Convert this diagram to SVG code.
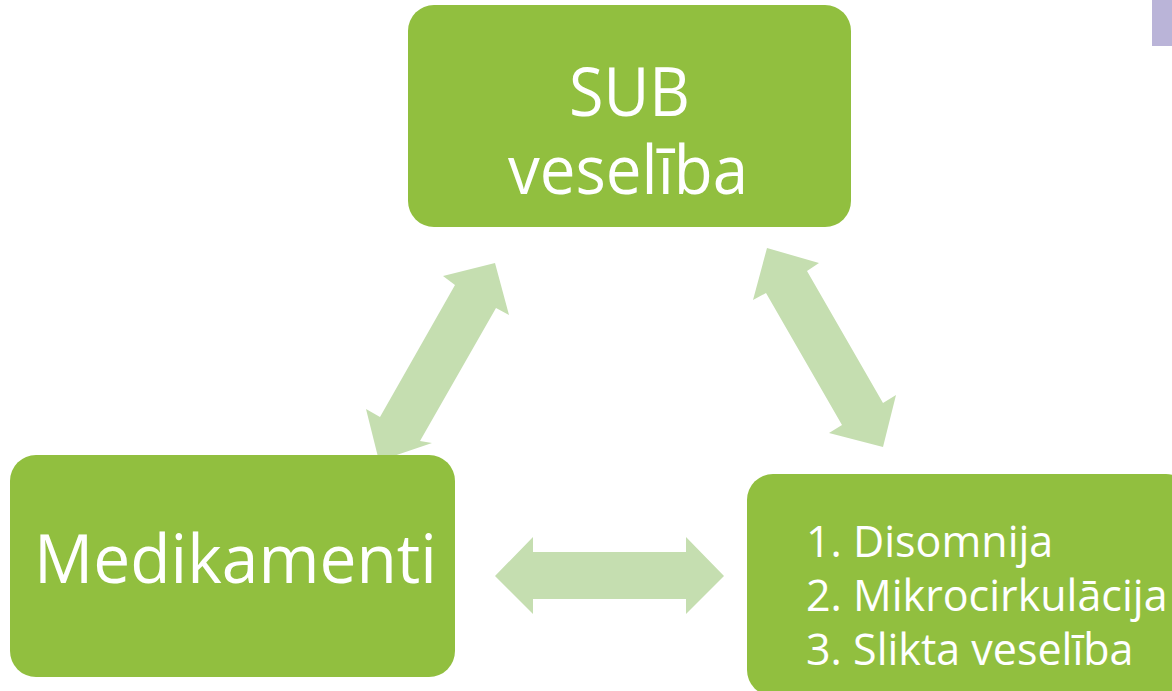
<svg xmlns="http://www.w3.org/2000/svg" width="1172" height="691" viewBox="0 0 1172 691">
<style>
.box{fill:#91bf3f}
.arr{fill:#c5deb0}
.t{font-family:"Open Sans","Noto Sans","Liberation Sans",sans-serif;fill:#ffffff}
.big{font-size:67px}
.list{font-size:43px}
</style>
<rect x="0" y="0" width="1172" height="691" fill="#ffffff"/>
<rect x="1152" y="0" width="20" height="46" fill="#bab4d8"/>
<g id="connectors">
<polygon class="arr" points="495,263 509,315 496,308 420,441 432,443 379,461 366,409 380,417 455,285 443,276"/>
<polygon class="arr" points="767,248 819,263 807,271 883,403 896,395 883,447 829,433 842,425 766,293 753,300"/>
<polygon class="arr" points="495,576 533,537 533,552 686,552 686,537 724,576 686,614 686,599 533,599 533,614"/>
</g>
<g id="node-sub">
<rect class="box" x="408" y="5" width="443" height="222" rx="26"/>
<text class="t big" x="569" y="116" textLength="121" lengthAdjust="spacingAndGlyphs">SUB</text>
<text class="t big" x="508" y="194" textLength="240" lengthAdjust="spacingAndGlyphs">veselība</text>
</g>
<g id="node-medikamenti">
<rect class="box" x="10" y="455" width="445" height="222" rx="26"/>
<text class="t big" x="34" y="583" textLength="403" lengthAdjust="spacingAndGlyphs">Medikamenti</text>
</g>
<g id="node-list">
<rect class="box" x="747" y="474" width="445" height="222" rx="26"/>
<text class="t list" x="806" y="557">1. Disomnija</text>
<text class="t list" x="806" y="611">2. Mikrocirkulācija</text>
<text class="t list" x="806" y="665">3. Slikta veselība</text>
</g>
</svg>
